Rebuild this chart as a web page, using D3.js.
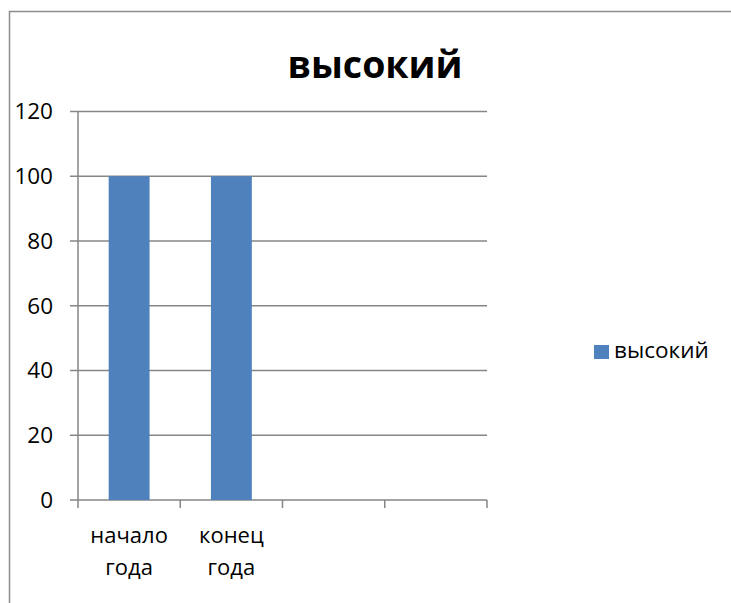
<!DOCTYPE html>
<html><head><meta charset="utf-8">
<script src="https://cdn.jsdelivr.net/npm/d3@7"></script>
<style>body{margin:0;background:#fff}svg{display:block}text{font-family:"Open Sans",sans-serif}</style>
</head><body><svg id="c" width="731" height="603"></svg>
<script>
const categories = ["начало года", "конец года", "", ""];
const seriesName = "высокий";
const values = [100, 100, null, null];
const yTicks = [0, 20, 40, 60, 80, 100, 120];
const title = "высокий";

const svg = d3.select("#c");
const W = 731, H = 603;
svg.append("rect").attr("x", 9.5).attr("y", 11.5).attr("width", W + 10).attr("height", H + 10)
  .attr("fill", "#fff").attr("stroke", "#8c8c8c").attr("stroke-width", 1.5);

const plot = {left: 78, right: 487, top: 111.5, bottom: 500};
const x = d3.scaleBand().domain(d3.range(categories.length)).range([plot.left, plot.right]).padding(0);
const y = d3.scaleLinear().domain([0, 120]).range([plot.bottom, plot.top]);

// gridlines
svg.append("g").selectAll("line").data(yTicks).join("line")
  .attr("x1", plot.left - 8).attr("x2", plot.right)
  .attr("y1", d => y(d)).attr("y2", d => y(d))
  .attr("stroke", "#868686").attr("stroke-width", 1.5);

// bars
const bw = x.bandwidth() * 0.4;
svg.append("g").selectAll("rect").data(values.map((v, i) => ({v, i})).filter(d => d.v != null)).join("rect")
  .attr("x", d => x(d.i) + (x.bandwidth() - bw) / 2).attr("width", bw)
  .attr("y", d => y(d.v)).attr("height", d => y(0) - y(d.v))
  .attr("fill", "#4f81bd");

// y axis line
svg.append("line").attr("x1", plot.left).attr("x2", plot.left).attr("y1", plot.top).attr("y2", plot.bottom + 8)
  .attr("stroke", "#868686").attr("stroke-width", 1.5);

// x axis ticks
const xt = d3.range(categories.length + 1).map(i => plot.left + i * x.bandwidth());
svg.append("g").selectAll("line").data(xt.slice(1)).join("line")
  .attr("x1", d => d).attr("x2", d => d).attr("y1", plot.bottom).attr("y2", plot.bottom + 8)
  .attr("stroke", "#868686").attr("stroke-width", 1.5);

// y tick labels
svg.append("g").selectAll("text").data(yTicks).join("text")
  .attr("x", 53).attr("y", d => y(d)).attr("dy", "0.35em").attr("text-anchor", "end")
  .attr("font-size", 22.5).attr("fill", "#000").text(d => d);

// x labels
const xl = svg.append("g").selectAll("text").data(categories.map((c, i) => ({c, i}))).join("text")
  .attr("x", d => x(d.i) + x.bandwidth() / 2).attr("y", 543).attr("text-anchor", "middle")
  .attr("font-size", 22).attr("fill", "#000");
xl.each(function(d) {
  const parts = d.c.split(" ");
  d3.select(this).selectAll("tspan").data(parts).join("tspan")
    .attr("x", x(d.i) + x.bandwidth() / 2).attr("dy", (p, k) => k === 0 ? 0 : 32).text(p => p);
});

// title
svg.append("text").attr("x", 375).attr("y", 78).attr("text-anchor", "middle")
  .attr("font-size", 37.5).attr("font-weight", "bold").attr("fill", "#000").text(title);

// legend
svg.append("rect").attr("x", 594).attr("y", 345).attr("width", 15).attr("height", 14).attr("fill", "#4f81bd");
svg.append("text").attr("x", 614).attr("y", 358).attr("font-size", 22.5).attr("fill", "#000").text(seriesName);
</script></body></html>
